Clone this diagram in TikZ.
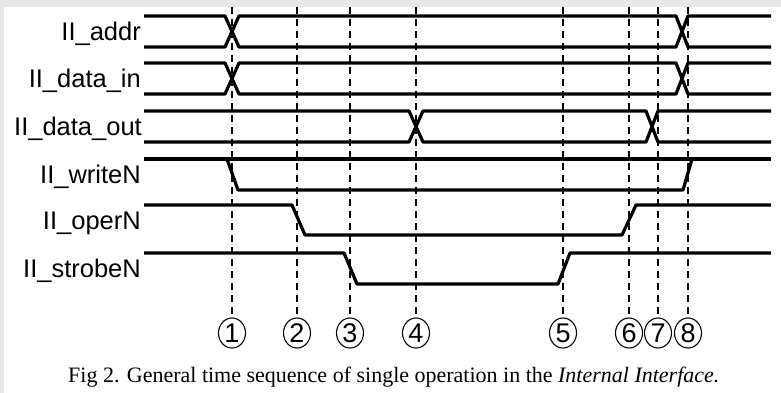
\documentclass[tikz,border=0pt]{standalone}
\usepackage{fontspec}
\setmainfont{Liberation Serif}
\newfontfamily\labfont{Liberation Sans}
\usetikzlibrary{shapes.geometric}
\begin{document}
\begin{tikzpicture}[x=1pt,y=-1pt,
  sig/.style={line width=3.2pt,line join=round},
  guide/.style={line width=1.4pt,dash pattern=on 7pt off 5pt},
  marker/.style={draw,line width=1.1pt,ellipse,minimum width=27pt,minimum height=30pt,inner sep=0pt,
    font=\labfont\fontsize{27}{27}\selectfont},
  siglabel/.style={anchor=base east,inner sep=0pt,font=\labfont\fontsize{25.5}{30}\selectfont},
]
% page background and white panel
\useasboundingbox (0,0) rectangle (781,393);
\fill[black!9] (0,0) rectangle (781,393);
\fill[white] (4,7) rectangle (781,393);

% event markers: dashed guides ending in numbered circles
\foreach \n/\x in {1/232,2/297,3/350,4/416,5/563,6/629,7/658,8/688}{
  \coordinate (t\n) at (\x,7);
  \node[marker] (m\n) at (\x,333) {\n};
  \draw[guide] (t\n) -- (m\n.north);
}

% bus signals (crossing transitions)
\foreach \hi/\lo/\a/\b in {16/47/232/682, 63/94/232/682, 111/142/416/652}{
  \draw[sig] (144,\hi) -- (\a-7,\hi) -- (\a+7,\lo) -- (\b-6,\lo) -- (\b+6,\hi) -- (771,\hi);
  \draw[sig] (144,\lo) -- (\a-7,\lo) -- (\a+7,\hi) -- (\b-6,\hi) -- (\b+6,\lo) -- (771,\lo);
}

% II_writeN
\draw[sig] (144,159) -- (771,159);
\draw[sig] (227,159) -- (238,190) -- (683,190) -- (692,159);
% II_operN
\draw[sig] (144,205) -- (292,205) -- (305,235) -- (622,235) -- (636,205) -- (771,205);
% II_strobeN
\draw[sig] (144,253) -- (344,253) -- (357,284) -- (558,284) -- (570,253) -- (771,253);

% signal names
\node[siglabel] (l1) at (141,40.5) {II\_addr};
\node[siglabel] (l2) at (141,87.5) {II\_data\_in};
\node[siglabel] (l3) at (142,135.5) {II\_data\_out};
\node[siglabel] (l4) at (141,183.5) {II\_writeN};
\node[siglabel] (l5) at (141,229.5) {II\_operN};
\node[siglabel] (l6) at (141,277.5) {II\_strobeN};

% caption
\node[anchor=base west,inner sep=0pt,font=\fontsize{22}{26}\selectfont] (cap) at (68,382)
  {Fig 2. General time sequence of single operation in the \textit{Internal Interface.}};
\end{tikzpicture}
\end{document}
